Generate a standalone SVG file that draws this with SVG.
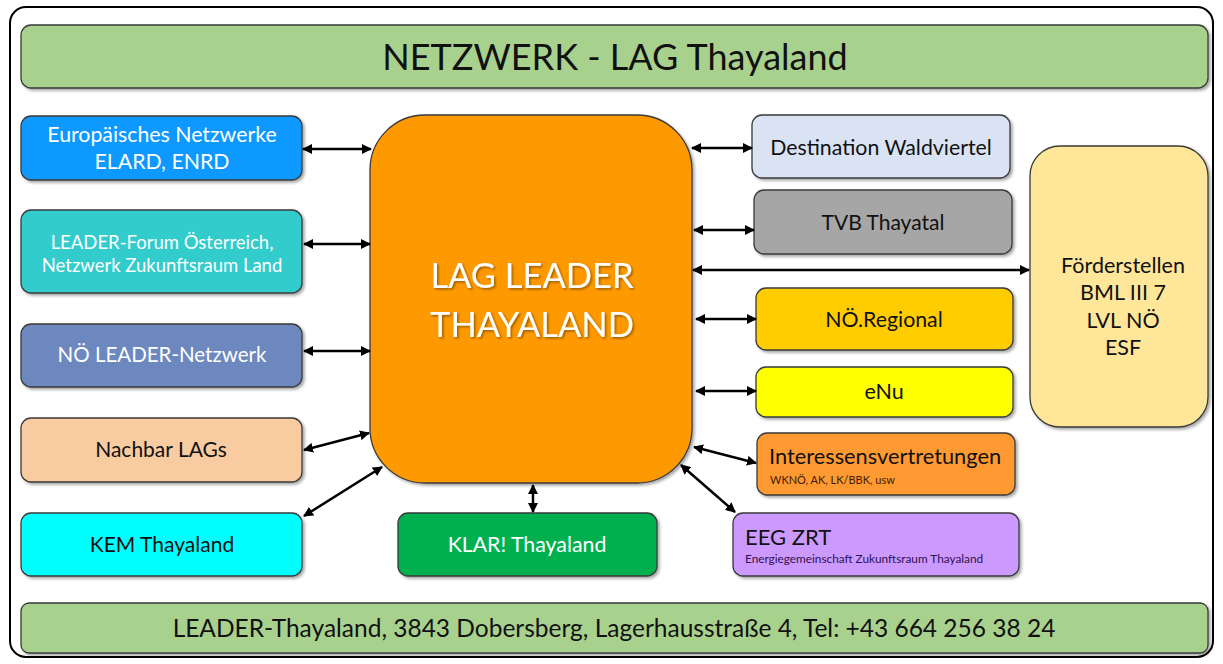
<svg xmlns="http://www.w3.org/2000/svg" width="1223" height="664" viewBox="0 0 1223 664">
<defs>
<filter id="sh" x="-10%" y="-10%" width="130%" height="130%"><feDropShadow dx="2" dy="2" stdDeviation="1.5" flood-color="#000" flood-opacity="0.35"/></filter>
<filter id="ts" x="-10%" y="-10%" width="130%" height="130%"><feDropShadow dx="1.5" dy="1.5" stdDeviation="1" flood-color="#000" flood-opacity="0.4"/></filter>
<marker id="ah" viewBox="0 0 10 10" refX="9" refY="5" markerWidth="4" markerHeight="4" orient="auto-start-reverse"><path d="M0,0 L10,5 L0,10 z" fill="#000"/></marker>
</defs>
<style>
.b{stroke:#3a3a3a;stroke-width:1.3;filter:url(#sh)}
text{font-family:Lato,"Open Sans","Liberation Sans",sans-serif;text-anchor:middle}
.w{fill:#fff}
.d{fill:#111}
.s{text-anchor:start}
.c{stroke:#000;stroke-width:2.5;fill:none;marker-start:url(#ah);marker-end:url(#ah)}
</style>
<rect x="0" y="0" width="1223" height="664" fill="#fff"/>
<rect x="10" y="7" width="1203" height="650" rx="16" fill="#fff" stroke="#000" stroke-width="2"/>

<g id="title"><rect class="b" x="21" y="25" width="1187" height="63" rx="10" fill="#A9D18E"/><text class="d" x="615" y="70" font-size="36">NETZWERK - LAG Thayaland</text></g>

<g id="europa"><rect class="b" x="21" y="116" width="281" height="64" rx="10" fill="#0A99FF"/><text class="w" x="162" y="142" font-size="21.3">Europäisches Netzwerke</text><text class="w" x="162" y="169" font-size="21.3">ELARD, ENRD</text></g>
<g id="forum"><rect class="b" x="21" y="210" width="281" height="83" rx="10" fill="#33CCCC"/><text class="w" x="162" y="249" font-size="18.5">LEADER-Forum Österreich,</text><text class="w" x="162" y="272" font-size="18.5">Netzwerk Zukunftsraum Land</text></g>
<g id="noeleader"><rect class="b" x="21" y="324" width="281" height="63" rx="10" fill="#6D87BF"/><text class="w" x="162" y="362" font-size="20.5">NÖ LEADER-Netzwerk</text></g>
<g id="nachbar"><rect class="b" x="21" y="418" width="281" height="64" rx="10" fill="#F8CBA0"/><text class="d" x="161" y="457" font-size="21">Nachbar LAGs</text></g>
<g id="kem"><rect class="b" x="21" y="513" width="281" height="63" rx="10" fill="#00FFFF"/><text class="d" x="162" y="552" font-size="21">KEM Thayaland</text></g>

<g id="lag"><rect class="b" x="370" y="115" width="322" height="368" rx="55" fill="#FF9900"/><text class="w" x="532" y="288" font-size="34.5" filter="url(#ts)">LAG LEADER</text><text class="w" x="532" y="337" font-size="34.5" filter="url(#ts)">THAYALAND</text></g>

<g id="klar"><rect class="b" x="398" y="513" width="259" height="63" rx="10" fill="#00B050"/><text class="w" x="527" y="552" font-size="21.3">KLAR! Thayaland</text></g>

<g id="destination"><rect class="b" x="752" y="115" width="258" height="63" rx="10" fill="#DAE3F3"/><text class="d" x="881" y="155" font-size="21.3">Destination Waldviertel</text></g>
<g id="tvb"><rect class="b" x="754" y="190" width="258" height="64" rx="10" fill="#A6A6A6"/><text class="d" x="883" y="230" font-size="21">TVB Thayatal</text></g>
<g id="noeregional"><rect class="b" x="756" y="288" width="257" height="62" rx="10" fill="#FFCC00"/><text class="d" x="884" y="327" font-size="21.3">NÖ.Regional</text></g>
<g id="enu"><rect class="b" x="756" y="367" width="257" height="50" rx="10" fill="#FFFF00"/><text class="d" x="884" y="399" font-size="21.5">eNu</text></g>
<g id="interessen"><rect class="b" x="757" y="433" width="258" height="62" rx="10" fill="#FF9933"/><text class="d s" x="769" y="464" font-size="21.8">Interessensvertretungen</text><text class="s" x="770" y="484" font-size="11" fill="#402000">WKNÖ, AK, LK/BBK, usw</text></g>
<g id="eeg"><rect class="b" x="733" y="513" width="286" height="63" rx="10" fill="#CC99FF"/><text class="d s" x="745" y="545" font-size="22">EEG ZRT</text><text class="s" x="745" y="563" font-size="11.8" fill="#301050">Energiegemeinschaft  Zukunftsraum Thayaland</text></g>

<g id="foerder"><rect class="b" x="1030" y="146" width="178" height="281" rx="30" fill="#FFE699"/><text class="d" x="1123" y="273" font-size="21.5">Förderstellen</text><text class="d" x="1123" y="300" font-size="21.5">BML III 7</text><text class="d" x="1123" y="328" font-size="21.5">LVL NÖ</text><text class="d" x="1123" y="355" font-size="21.5">ESF</text></g>

<g id="footer"><rect class="b" x="21" y="603" width="1187" height="50" rx="8" fill="#A9D18E"/><text class="d" x="614" y="637" font-size="24.5">LEADER-Thayaland, 3843 Dobersberg, Lagerhausstraße 4, Tel: +43 664 256 38 24</text></g>

<g id="connectors">
<line class="c" x1="303" y1="149" x2="371" y2="149"/>
<line class="c" x1="304" y1="244" x2="370" y2="244"/>
<line class="c" x1="304" y1="351" x2="370" y2="351"/>
<line class="c" x1="304" y1="450" x2="369" y2="433"/>
<line class="c" x1="304" y1="516" x2="382" y2="467"/>
<line class="c" x1="533" y1="485" x2="533" y2="512"/>
<line class="c" x1="692" y1="148" x2="752" y2="148"/>
<line class="c" x1="694" y1="230" x2="754" y2="230"/>
<line class="c" x1="693" y1="270" x2="1029" y2="270"/>
<line class="c" x1="696" y1="319" x2="756" y2="319"/>
<line class="c" x1="696" y1="391" x2="756" y2="391"/>
<line class="c" x1="694" y1="447" x2="756" y2="463"/>
<line class="c" x1="681" y1="465" x2="735" y2="512"/>
</g>
</svg>
